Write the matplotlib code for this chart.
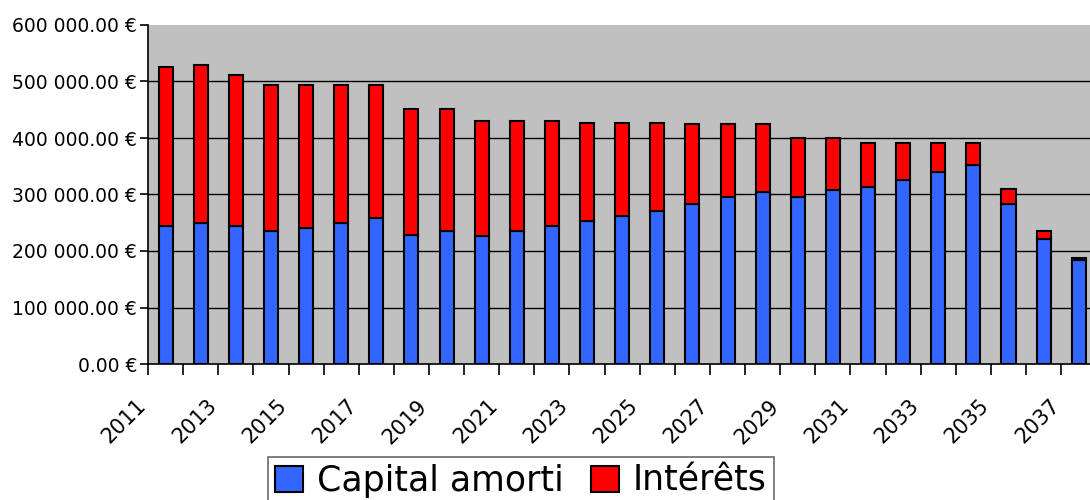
import numpy as np
import matplotlib
matplotlib.use('Agg')
import matplotlib.pyplot as plt
from matplotlib.ticker import FuncFormatter

# donnees (en milliers d'euros)
annees = list(range(2011, 2038))
capital = [244.6, 250.0, 244.8, 235.4, 241.0, 250.0, 259.0, 228.9, 235.4, 226.5,
           235.4, 244.8, 253.7, 262.5, 271.4, 283.2, 295.6, 303.9, 295.6, 308.0,
           312.7, 325.0, 340.4, 352.2, 283.2, 220.6, 184.0]
interets = [281.1, 278.7, 266.7, 257.6, 252.0, 243.0, 234.0, 221.8, 215.3, 203.5,
            194.6, 185.2, 173.3, 164.5, 155.6, 141.6, 128.4, 120.1, 103.9, 91.5,
            77.9, 65.6, 50.2, 38.4, 26.5, 14.8, 3.6]
graduations = [0, 100000, 200000, 300000, 400000, 500000, 600000]

capital = np.array(capital) * 1000
interets = np.array(interets) * 1000

plt.rcParams['font.family'] = ['DejaVu Sans']

fig = plt.figure(figsize=(10.9, 5.0), dpi=100)
ax = fig.add_axes([0.1358, 0.272, 0.8642, 0.678])
ax.set_facecolor('#C0C0C0')

x = np.arange(len(annees)) + 0.5
ax.bar(x, capital, width=0.4, color='#3366FF', edgecolor='black', linewidth=1.5,
       label='Capital amorti', zorder=3)
ax.bar(x, interets, width=0.4, bottom=capital, color='#FF0000', edgecolor='black',
       linewidth=1.5, label='Intérêts', zorder=3)

ax.set_yticks(graduations)
ax.yaxis.set_major_formatter(FuncFormatter(
    lambda v, p: f'{v:,.2f}'.replace(',', ' ') + ' €'))
# lignes de quadrillage sauf celle du haut
for g in graduations[1:-1]:
    ax.axhline(g, color='black', linewidth=1, zorder=1)

# traits aux limites des categories
ax.set_xticks(np.arange(0, len(annees)))
ax.set_xticklabels([])
ax.set_xlim(0, 26.82)
ax.set_ylim(0, 600000)

# etiquettes une annee sur deux, inclinees comme dans Excel
for i in range(0, len(annees), 2):
    ax.annotate(str(annees[i]), xy=(i, 0), xycoords=('data', 'axes fraction'),
                xytext=(-8.6, -22.8), textcoords='offset points',
                rotation=45, ha='right', va='top', rotation_mode='anchor',
                fontsize=15, annotation_clip=False)

ax.tick_params(axis='y', labelsize=13.5, length=6, width=1.2, pad=2)
ax.tick_params(axis='x', length=8, width=1.2)

for s in ['top', 'right']:
    ax.spines[s].set_visible(False)
for s in ['left', 'bottom']:
    ax.spines[s].set_linewidth(1.2)

leg = fig.legend(loc='upper center', bbox_to_anchor=(0.478, 0.086), ncol=2,
                 fontsize=25, frameon=True, fancybox=False, edgecolor='#444444',
                 handlelength=0.8, handleheight=0.8, handletextpad=0.4,
                 columnspacing=0.8, borderpad=0.2, borderaxespad=0)
leg.get_frame().set_linewidth(1.2)

plt.savefig('out.png', dpi=100)
